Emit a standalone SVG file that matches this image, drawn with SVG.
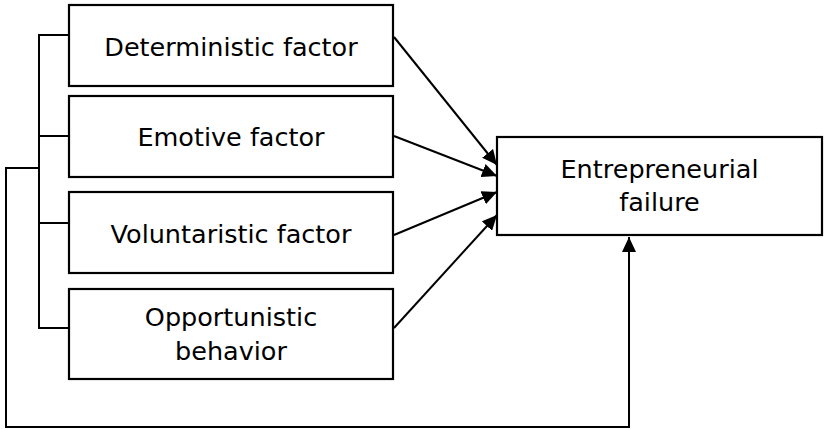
<svg xmlns="http://www.w3.org/2000/svg" width="824" height="429" viewBox="0 0 824 429">
<style>
.box{fill:#fff;stroke:#000;stroke-width:2.2}
.t{font-family:"DejaVu Sans","Liberation Sans",sans-serif;font-size:25.5px;fill:#000;text-anchor:middle}
.c{fill:none;stroke:#000;stroke-width:2}
</style>
<defs>
<marker id="ah" markerUnits="userSpaceOnUse" markerWidth="15" markerHeight="14" viewBox="0 0 15 14" refX="15" refY="7" orient="auto">
<path d="M0,0 L15,7 L0,14 Z" fill="#000"/>
</marker>
</defs>
<rect width="824" height="429" fill="#fff"/>
<g id="connectors">
<polyline class="c" points="69,35 39,35 39,328 69,328"/>
<line class="c" x1="39" y1="136" x2="69" y2="136"/>
<line class="c" x1="39" y1="223" x2="69" y2="223"/>
<polyline class="c" points="39,168 6,168 6,427 629,427 629,237" marker-end="url(#ah)"/>
<line class="c" x1="394" y1="37" x2="497" y2="165" marker-end="url(#ah)"/>
<line class="c" x1="394" y1="136" x2="497" y2="176" marker-end="url(#ah)"/>
<line class="c" x1="394" y1="235" x2="497" y2="192" marker-end="url(#ah)"/>
<line class="c" x1="394" y1="328" x2="497" y2="215" marker-end="url(#ah)"/>
</g>
<g id="n1"><rect class="box" x="69" y="5" width="324" height="81"/><text class="t" x="231" y="56">Deterministic factor</text></g>
<g id="n2"><rect class="box" x="69" y="96" width="324" height="81"/><text class="t" x="231" y="146">Emotive factor</text></g>
<g id="n3"><rect class="box" x="69" y="192" width="324" height="81"/><text class="t" x="231" y="243">Voluntaristic factor</text></g>
<g id="n4"><rect class="box" x="69" y="289" width="324" height="90"/><text class="t" x="231" y="326">Opportunistic</text><text class="t" x="231" y="360">behavior</text></g>
<g id="target"><rect class="box" x="497" y="137" width="325" height="98"/><text class="t" x="659.5" y="178">Entrepreneurial</text><text class="t" x="659.5" y="211">failure</text></g>
</svg>
